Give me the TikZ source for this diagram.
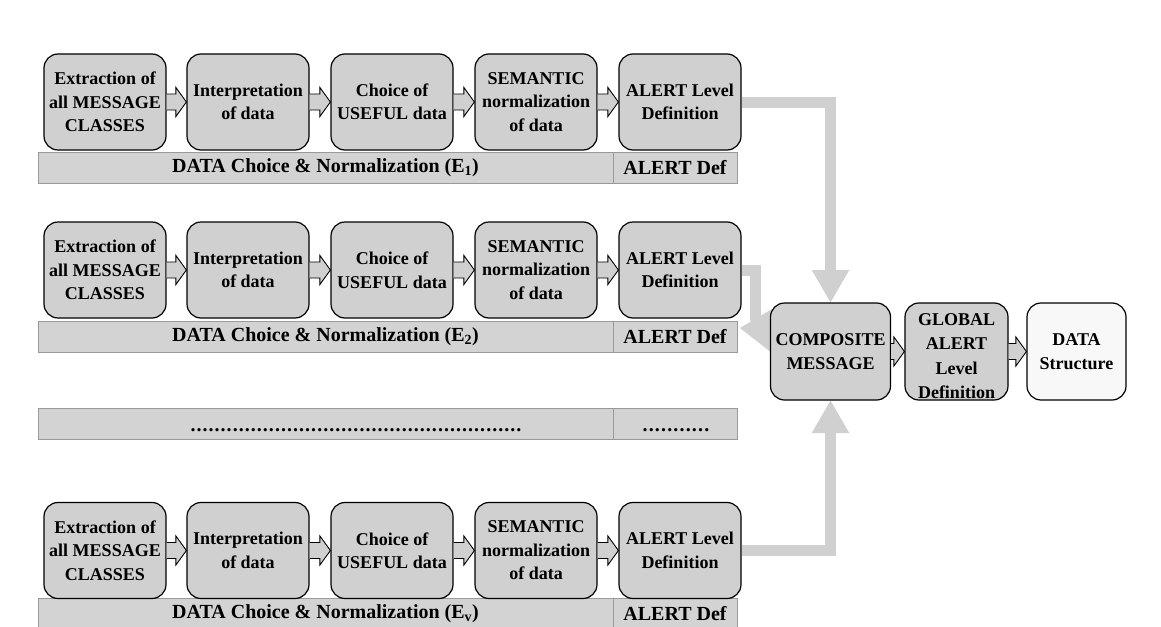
\documentclass[tikz,border=0pt]{standalone}
\usepackage{fontspec}
\setmainfont{Liberation Serif}
\usetikzlibrary{arrows.meta,calc}
\definecolor{boxgray}{HTML}{D0D0D0}
\definecolor{bargray}{HTML}{D3D3D3}
\definecolor{barline}{HTML}{9A9A9A}
\definecolor{flowgray}{HTML}{D0D0D0}
\definecolor{lightbox}{HTML}{F8F8F8}
\newcommand{\hollowarrow}[2]{%
  \draw[hollowarr] let \p1=(#1.east), \p2=(#2.west) in
  (\x1,\y1+8pt) -- (\x2-10.5pt,\y1+8pt) -- (\x2-10.5pt,\y1+14.5pt) -- (\x2,\y1)
  -- (\x2-10.5pt,\y1-14.5pt) -- (\x2-10.5pt,\y1-8pt) -- (\x1,\y1-8pt);}
\newcommand{\dotrun}[1]{\hbox to #1{\xleaders\hbox to 6pt{\hss.\hss}\hfill}}
\begin{document}
\begin{tikzpicture}[x=1pt,y=-1pt,
  stagebox/.style={draw=black, line width=1.2pt, fill=boxgray, rounded corners=14pt,
    minimum width=122pt, minimum height=96pt, inner sep=0pt, align=center,
    font=\fontsize{18}{23.5}\selectfont\bfseries},
  barcell/.style={draw=barline, line width=1pt, fill=bargray, minimum height=31pt,
    inner sep=0pt, font=\fontsize{20}{22}\selectfont\bfseries},
  hollowarr/.style={draw=black, fill=boxgray, line width=0.9pt, line join=miter},
  flowline/.style={draw=flowgray, line width=11pt, line join=miter, line cap=butt},
  flowarrow/.style={flowline, -{Triangle[width=35pt,length=33pt]}},
  plaintext/.style={inner sep=0pt, align=center, font=\fontsize{18}{23.5}\selectfont\bfseries},
]
\useasboundingbox (0,0) rectangle (1161,626);

% ---------- bars ----------
\foreach \r/\yy/\sub in {a/167.5/1, b/336.5/2, d/613.5/v}{
  \node[barcell, minimum width=575pt] (bar\r L) at (325.5,\yy) {DATA Choice \& Normalization (E\textsubscript{\sub})};
  \node[barcell, minimum width=124pt] (bar\r R) at (675,\yy) {ALERT Def};
}
\node[barcell, minimum width=575pt] (barcL) at (325.5,423.5) {};
\node[barcell, minimum width=124pt] (barcR) at (675,423.5) {};
\node[plaintext, anchor=base, font=\fontsize{20}{22}\selectfont\bfseries] (dotsL) at (356,431) {\dotrun{332pt}};
\node[plaintext, anchor=base, font=\fontsize{20}{22}\selectfont\bfseries] (dotsR) at (676,431) {\dotrun{68pt}};

% ---------- stage rows ----------
\foreach \r/\yy in {a/102, b/270, d/550.5}{
  \node[stagebox] (\r1) at (105,\yy) {Extraction of\\all MESSAGE\\CLASSES};
  \node[stagebox] (\r2) at (248,\yy) {Interpretation\\of data};
  \node[stagebox] (\r3) at (392,\yy) {Choice of\\USEFUL data};
  \node[stagebox] (\r4) at (536,\yy) {SEMANTIC\\normalization\\of data};
  \node[stagebox] (\r5) at (680,\yy) {ALERT Level\\Definition};
  \hollowarrow{\r1}{\r2}
  \hollowarrow{\r2}{\r3}
  \hollowarrow{\r3}{\r4}
  \hollowarrow{\r4}{\r5}
}

% ---------- composite stage ----------
\coordinate (compN) at (830.5,303);
\coordinate (compS) at (830.5,400);
\coordinate (bbend) at (755,321);
\draw[flowarrow] (a5.east) -| (compN);
\draw[flowarrow] (d5.east) -| (compS);
\draw[flowline] (b5.east) -| (bbend);
\fill[flowgray] (740,328) -- (772,309) -- (772,353) -- cycle;

\node[stagebox, minimum width=120pt, minimum height=97pt] (comp) at (830.5,351.5) {COMPOSITE\\MESSAGE};
\node[stagebox, minimum width=103pt, minimum height=97pt] (glob) at (956.5,351.5) {};
\node[plaintext, font=\fontsize{18}{24.3}\selectfont\bfseries] (globtext) at (956.5,356) {GLOBAL\\ALERT\\Level\\Definition};
\node[stagebox, minimum width=99pt, minimum height=97pt, fill=lightbox] (dstr) at (1076.5,351.5) {DATA\\Structure};
\hollowarrow{comp}{glob}
\hollowarrow{glob}{dstr}
\end{tikzpicture}
\end{document}
